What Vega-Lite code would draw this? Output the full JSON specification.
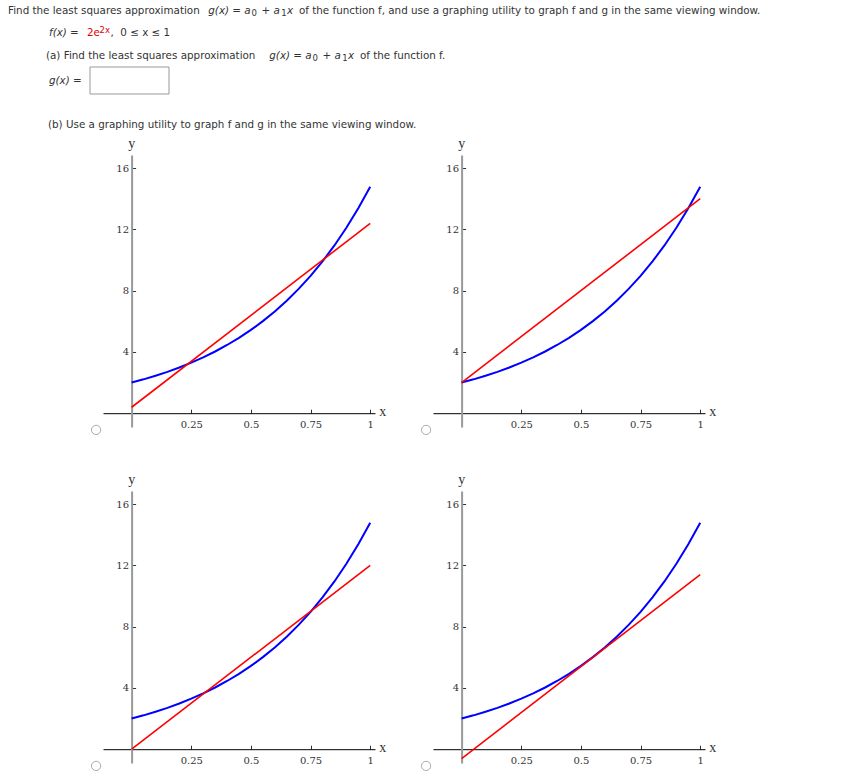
{
  "$schema": "https://vega.github.io/schema/vega-lite/v6.json",
  "autosize": {"type": "pad"},
  "padding": {"left": 8, "top": 0, "right": 0, "bottom": 0},
  "background": "white",
  "config": {"view": {"stroke": null}},
  "bounds": "flush",
  "columns": 2,
  "spacing": {"row": 64, "column": 58},
  "datasets": {
    "header": [
      {"kind": "plain", "x": 8, "y": 10.5, "text": "Find the least squares approximation"},
      {"kind": "math", "x": 208.3, "y": 10.5, "text": "g(x) = a"},
      {"kind": "sub", "x": 251.5, "y": 13, "text": "0"},
      {"kind": "math", "x": 261.5, "y": 10.5, "text": "+ a"},
      {"kind": "sub", "x": 281.3, "y": 13, "text": "1"},
      {"kind": "math", "x": 287, "y": 10.5, "text": "x"},
      {"kind": "plain", "x": 299, "y": 10.5, "text": "of the function f, and use a graphing utility to graph f and g in the same viewing window."},
      {"kind": "math", "x": 49, "y": 33, "text": "f(x) ="},
      {"kind": "red", "x": 87, "y": 33, "text": "2e"},
      {"kind": "sup", "x": 99.5, "y": 29.5, "text": "2x"},
      {"kind": "plain", "x": 110.5, "y": 33, "text": ",\u00a0\u00a00 ≤ x ≤ 1"},
      {"kind": "plain", "x": 46, "y": 55.7, "text": "(a) Find the least squares approximation"},
      {"kind": "math", "x": 269.3, "y": 55.7, "text": "g(x) = a"},
      {"kind": "sub", "x": 312.5, "y": 58.2, "text": "0"},
      {"kind": "math", "x": 322.5, "y": 55.7, "text": "+ a"},
      {"kind": "sub", "x": 342.3, "y": 58.2, "text": "1"},
      {"kind": "math", "x": 348, "y": 55.7, "text": "x"},
      {"kind": "plain", "x": 360, "y": 55.7, "text": "of the function f."},
      {"kind": "math", "x": 49, "y": 81, "text": "g(x) ="},
      {"kind": "plain", "x": 48, "y": 125, "text": "(b) Use a graphing utility to graph f and g in the same viewing window."},
      {"kind": "box", "x": 90, "y": 67, "x2": 169, "y2": 94, "text": ""}
    ],
    "f": [
      {"x": 0, "y": 2},
      {"x": 0.05, "y": 2.2103},
      {"x": 0.1, "y": 2.4428},
      {"x": 0.15, "y": 2.6997},
      {"x": 0.2, "y": 2.9836},
      {"x": 0.25, "y": 3.2974},
      {"x": 0.3, "y": 3.6442},
      {"x": 0.35, "y": 4.0275},
      {"x": 0.4, "y": 4.4511},
      {"x": 0.45, "y": 4.9192},
      {"x": 0.5, "y": 5.4366},
      {"x": 0.55, "y": 6.0083},
      {"x": 0.6, "y": 6.6402},
      {"x": 0.65, "y": 7.3386},
      {"x": 0.7, "y": 8.1104},
      {"x": 0.75, "y": 8.9634},
      {"x": 0.8, "y": 9.9061},
      {"x": 0.85, "y": 10.9479},
      {"x": 0.9, "y": 12.0993},
      {"x": 0.95, "y": 13.3718},
      {"x": 1, "y": 14.7781}
    ],
    "g": [
      {"panel": "A", "x": 0, "y": 0.389},
      {"panel": "A", "x": 1, "y": 12.389},
      {"panel": "B", "x": 0, "y": 2},
      {"panel": "B", "x": 1, "y": 14},
      {"panel": "C", "x": 0, "y": 0},
      {"panel": "C", "x": 1, "y": 12},
      {"panel": "D", "x": 0, "y": -0.611},
      {"panel": "D", "x": 1, "y": 11.389}
    ],
    "names": [
      {"x": 1.053, "y": 0.05, "text": "x"},
      {"x": 0, "y": 17.6, "text": "y"}
    ],
    "radio": [
      {"x": -0.149, "y": -1.09}
    ]
  },
  "concat": [
    {
      "width": 272,
      "height": 91,
      "data": {"name": "header"},
      "encoding": {
        "x": {"field": "x", "type": "quantitative", "scale": {"domain": [103, 375], "nice": false, "zero": false}, "axis": null},
        "y": {"field": "y", "type": "quantitative", "scale": {"domain": [0, 91], "nice": false, "zero": false, "reverse": true}, "axis": null}
      },
      "layer": [
        {
          "transform": [{"filter": "datum.kind === 'box'"}],
          "mark": {"type": "rect", "fill": "white", "stroke": "#999", "strokeWidth": 1, "clip": false},
          "encoding": {"x2": {"field": "x2"}, "y2": {"field": "y2"}}
        },
        {
          "transform": [{"filter": "datum.kind === 'plain'"}],
          "mark": {"type": "text", "align": "left", "baseline": "middle", "font": "DejaVu Sans", "fontSize": 10.35, "color": "#333"},
          "encoding": {"text": {"field": "text"}}
        },
        {
          "transform": [{"filter": "datum.kind === 'math'"}],
          "mark": {"type": "text", "align": "left", "baseline": "middle", "font": "DejaVu Sans", "fontSize": 10.35, "fontStyle": "italic", "color": "#333"},
          "encoding": {"text": {"field": "text"}}
        },
        {
          "transform": [{"filter": "datum.kind === 'sub'"}],
          "mark": {"type": "text", "align": "left", "baseline": "middle", "font": "DejaVu Sans", "fontSize": 8.5, "color": "#333"},
          "encoding": {"text": {"field": "text"}}
        },
        {
          "transform": [{"filter": "datum.kind === 'red'"}],
          "mark": {"type": "text", "align": "left", "baseline": "middle", "font": "DejaVu Sans", "fontSize": 10.35, "color": "#e00000"},
          "encoding": {"text": {"field": "text"}}
        },
        {
          "transform": [{"filter": "datum.kind === 'sup'"}],
          "mark": {"type": "text", "align": "left", "baseline": "middle", "font": "DejaVu Sans", "fontSize": 8.5, "color": "#e00000"},
          "encoding": {"text": {"field": "text"}}
        }
      ]
    },
    {
      "width": 272,
      "height": 91,
      "data": {"values": [{"t": ""}]},
      "mark": {"type": "text"},
      "encoding": {"text": {"field": "t"}}
    },
    {
      "width": 272, "height": 272,
      "encoding": {
        "x": {"field": "x", "type": "quantitative", "scale": {"domain": [-0.12, 1.02], "nice": false, "zero": false},
          "axis": {"orient": "bottom", "offset": -13.8, "values": [0.25, 0.5, 0.75, 1], "format": ".2~f", "title": null, "grid": false, "domainColor": "#000", "domainWidth": 1, "tickColor": "#333", "tickSize": -4, "tickWidth": 1, "labelPadding": 10, "labelFont": "DejaVu Serif", "labelFontSize": 10, "labelColor": "#333", "labelFlush": false, "labelOverlap": false}},
        "y": {"field": "y", "type": "quantitative", "scale": {"domain": [-0.9, 16.85], "nice": false, "zero": false},
          "axis": {"orient": "left", "offset": -28.6, "values": [4, 8, 12, 16], "format": "d", "title": null, "grid": false, "domainColor": "#999", "domainWidth": 2, "tickColor": "#333", "tickSize": -4, "tickWidth": 1, "labelPadding": 7, "labelFont": "DejaVu Serif", "labelFontSize": 10, "labelColor": "#333", "labelFlush": false, "labelOverlap": false}}
      },
      "layer": [
        {"data": {"name": "f"}, "mark": {"type": "line", "color": "#0000ff", "strokeWidth": 2, "clip": false}},
        {"data": {"name": "g"}, "transform": [{"filter": "datum.panel === 'A'"}], "mark": {"type": "line", "color": "#ff0000", "strokeWidth": 1.6, "clip": false}},
        {"data": {"name": "names"}, "mark": {"type": "text", "align": "center", "baseline": "middle", "font": "Liberation Serif", "fontSize": 14, "color": "#333"}, "encoding": {"text": {"field": "text"}}},
        {"data": {"name": "radio"}, "mark": {"type": "point", "shape": "circle", "size": 85, "filled": false, "fill": "white", "stroke": "#aaa", "strokeWidth": 1, "opacity": 1}}
      ]
    },
    {
      "width": 272, "height": 272,
      "encoding": {
        "x": {"field": "x", "type": "quantitative", "scale": {"domain": [-0.12, 1.02], "nice": false, "zero": false},
          "axis": {"orient": "bottom", "offset": -13.8, "values": [0.25, 0.5, 0.75, 1], "format": ".2~f", "title": null, "grid": false, "domainColor": "#000", "domainWidth": 1, "tickColor": "#333", "tickSize": -4, "tickWidth": 1, "labelPadding": 10, "labelFont": "DejaVu Serif", "labelFontSize": 10, "labelColor": "#333", "labelFlush": false, "labelOverlap": false}},
        "y": {"field": "y", "type": "quantitative", "scale": {"domain": [-0.9, 16.85], "nice": false, "zero": false},
          "axis": {"orient": "left", "offset": -28.6, "values": [4, 8, 12, 16], "format": "d", "title": null, "grid": false, "domainColor": "#999", "domainWidth": 2, "tickColor": "#333", "tickSize": -4, "tickWidth": 1, "labelPadding": 7, "labelFont": "DejaVu Serif", "labelFontSize": 10, "labelColor": "#333", "labelFlush": false, "labelOverlap": false}}
      },
      "layer": [
        {"data": {"name": "f"}, "mark": {"type": "line", "color": "#0000ff", "strokeWidth": 2, "clip": false}},
        {"data": {"name": "g"}, "transform": [{"filter": "datum.panel === 'B'"}], "mark": {"type": "line", "color": "#ff0000", "strokeWidth": 1.6, "clip": false}},
        {"data": {"name": "names"}, "mark": {"type": "text", "align": "center", "baseline": "middle", "font": "Liberation Serif", "fontSize": 14, "color": "#333"}, "encoding": {"text": {"field": "text"}}},
        {"data": {"name": "radio"}, "mark": {"type": "point", "shape": "circle", "size": 85, "filled": false, "fill": "white", "stroke": "#aaa", "strokeWidth": 1, "opacity": 1}}
      ]
    },
    {
      "width": 272, "height": 272,
      "encoding": {
        "x": {"field": "x", "type": "quantitative", "scale": {"domain": [-0.12, 1.02], "nice": false, "zero": false},
          "axis": {"orient": "bottom", "offset": -13.8, "values": [0.25, 0.5, 0.75, 1], "format": ".2~f", "title": null, "grid": false, "domainColor": "#000", "domainWidth": 1, "tickColor": "#333", "tickSize": -4, "tickWidth": 1, "labelPadding": 10, "labelFont": "DejaVu Serif", "labelFontSize": 10, "labelColor": "#333", "labelFlush": false, "labelOverlap": false}},
        "y": {"field": "y", "type": "quantitative", "scale": {"domain": [-0.9, 16.85], "nice": false, "zero": false},
          "axis": {"orient": "left", "offset": -28.6, "values": [4, 8, 12, 16], "format": "d", "title": null, "grid": false, "domainColor": "#999", "domainWidth": 2, "tickColor": "#333", "tickSize": -4, "tickWidth": 1, "labelPadding": 7, "labelFont": "DejaVu Serif", "labelFontSize": 10, "labelColor": "#333", "labelFlush": false, "labelOverlap": false}}
      },
      "layer": [
        {"data": {"name": "f"}, "mark": {"type": "line", "color": "#0000ff", "strokeWidth": 2, "clip": false}},
        {"data": {"name": "g"}, "transform": [{"filter": "datum.panel === 'C'"}], "mark": {"type": "line", "color": "#ff0000", "strokeWidth": 1.6, "clip": false}},
        {"data": {"name": "names"}, "mark": {"type": "text", "align": "center", "baseline": "middle", "font": "Liberation Serif", "fontSize": 14, "color": "#333"}, "encoding": {"text": {"field": "text"}}},
        {"data": {"name": "radio"}, "mark": {"type": "point", "shape": "circle", "size": 85, "filled": false, "fill": "white", "stroke": "#aaa", "strokeWidth": 1, "opacity": 1}}
      ]
    },
    {
      "width": 272, "height": 272,
      "encoding": {
        "x": {"field": "x", "type": "quantitative", "scale": {"domain": [-0.12, 1.02], "nice": false, "zero": false},
          "axis": {"orient": "bottom", "offset": -13.8, "values": [0.25, 0.5, 0.75, 1], "format": ".2~f", "title": null, "grid": false, "domainColor": "#000", "domainWidth": 1, "tickColor": "#333", "tickSize": -4, "tickWidth": 1, "labelPadding": 10, "labelFont": "DejaVu Serif", "labelFontSize": 10, "labelColor": "#333", "labelFlush": false, "labelOverlap": false}},
        "y": {"field": "y", "type": "quantitative", "scale": {"domain": [-0.9, 16.85], "nice": false, "zero": false},
          "axis": {"orient": "left", "offset": -28.6, "values": [4, 8, 12, 16], "format": "d", "title": null, "grid": false, "domainColor": "#999", "domainWidth": 2, "tickColor": "#333", "tickSize": -4, "tickWidth": 1, "labelPadding": 7, "labelFont": "DejaVu Serif", "labelFontSize": 10, "labelColor": "#333", "labelFlush": false, "labelOverlap": false}}
      },
      "layer": [
        {"data": {"name": "f"}, "mark": {"type": "line", "color": "#0000ff", "strokeWidth": 2, "clip": false}},
        {"data": {"name": "g"}, "transform": [{"filter": "datum.panel === 'D'"}], "mark": {"type": "line", "color": "#ff0000", "strokeWidth": 1.6, "clip": false}},
        {"data": {"name": "names"}, "mark": {"type": "text", "align": "center", "baseline": "middle", "font": "Liberation Serif", "fontSize": 14, "color": "#333"}, "encoding": {"text": {"field": "text"}}},
        {"data": {"name": "radio"}, "mark": {"type": "point", "shape": "circle", "size": 85, "filled": false, "fill": "white", "stroke": "#aaa", "strokeWidth": 1, "opacity": 1}}
      ]
    }
  ]
}
